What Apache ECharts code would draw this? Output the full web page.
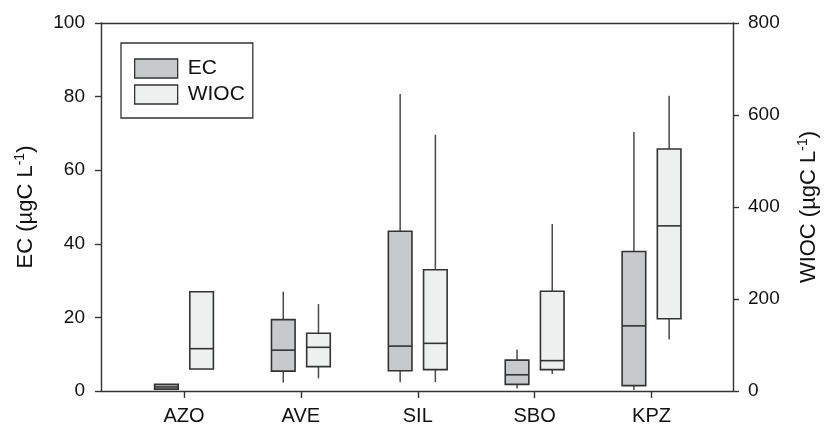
<!DOCTYPE html>
<html>
<head>
<meta charset="utf-8">
<script src="https://cdn.jsdelivr.net/npm/echarts@6/dist/echarts.min.js"></script>
<style>
html,body{margin:0;padding:0;background:#fff;}
#chart{width:824px;height:428px;}
</style>
</head>
<body>
<div id="chart"></div>
<script>
// ---- data ----
const categories = ['AZO', 'AVE', 'SIL', 'SBO', 'KPZ'];
// EC (left axis, µgC/L)
const ecMin = [0.5, 2.3, 2.4, 0.7, 0.3];
const ecQ1  = [0.5, 5.4, 5.5, 1.8, 1.45];
const ecMed = [1.1, 11.1, 12.2, 4.4, 17.7];
const ecQ3  = [1.8, 19.4, 43.4, 8.4, 37.9];
const ecMax = [1.8, 27.0, 80.7, 11.3, 70.4];
// WIOC (right axis, µgC/L)
const wiocMin = [47.8, 27.5, 19.6, 37, 112];
const wiocQ1  = [47.8, 52.9, 46.4, 46.4, 157];
const wiocMed = [92, 95, 103.6, 66, 359];
const wiocQ3  = [215.9, 125.4, 263.7, 216.7, 526];
const wiocMax = [215.9, 189, 557, 363, 642];
const leftTicks = [0, 20, 40, 60, 80, 100];
const rightTicks = [0, 200, 400, 600, 800];

const FONT = '"Liberation Sans", Arial, Helvetica, sans-serif';
const LINE = '#333333';

function rows(mn, q1, md, q3, mx) {
  return categories.map((c, i) => [i, mn[i], q1[i], md[i], q3[i], mx[i]]);
}

function makeRender(offsetPx, fill) {
  return function (params, api) {
    const x = api.value(0);
    const pMin = api.coord([x, api.value(1)]);
    const pQ1 = api.coord([x, api.value(2)]);
    const pMed = api.coord([x, api.value(3)]);
    const pQ3 = api.coord([x, api.value(4)]);
    const pMax = api.coord([x, api.value(5)]);
    const cx = pMed[0] + offsetPx;
    const hw = 11.8;
    const children = [];
    if (pMax[1] < pQ3[1] - 0.5) {
      children.push({type: 'line', shape: {x1: cx, y1: pMax[1], x2: cx, y2: pQ3[1]},
        style: {stroke: '#4a4a4a', lineWidth: 1.5}});
    }
    if (pMin[1] > pQ1[1] + 0.5) {
      children.push({type: 'line', shape: {x1: cx, y1: pQ1[1], x2: cx, y2: pMin[1]},
        style: {stroke: '#4a4a4a', lineWidth: 1.5}});
    }
    children.push({type: 'rect', shape: {x: cx - hw, y: pQ3[1], width: hw * 2, height: pQ1[1] - pQ3[1]},
      style: {fill: fill, stroke: LINE, lineWidth: 1.6}});
    children.push({type: 'line', shape: {x1: cx - hw, y1: pMed[1], x2: cx + hw, y2: pMed[1]},
      style: {stroke: LINE, lineWidth: 1.6}});
    return {type: 'group', children: children};
  };
}

const chart = echarts.init(document.getElementById('chart'), null, {renderer: 'canvas'});
const EC_FILL = '#c8c9cb';
const WIOC_FILL = '#eef0ef';

const option = {
  animation: false,
  backgroundColor: '#fff',
  textStyle: {fontFamily: FONT},
  grid: {left: 101, right: 91, top: 23, bottom: 37, outerBoundsMode: 'none'},
  legend: {
    orient: 'vertical',
    left: 121, top: 43,
    padding: [15, 8, 13, 13],
    itemWidth: 43, itemHeight: 19, itemGap: 5,
    borderColor: LINE, borderWidth: 1.3,
    icon: 'rect',
    selectedMode: false,
    textStyle: {fontSize: 21, color: '#111', fontFamily: FONT, lineHeight: 19, padding: [0, 0, 0, 5]},
    data: [
      {name: 'EC', icon: 'rect', itemStyle: {color: EC_FILL, borderColor: LINE, borderWidth: 1.3}},
      {name: 'WIOC', icon: 'rect', itemStyle: {color: WIOC_FILL, borderColor: LINE, borderWidth: 1.3}}
    ]
  },
  xAxis: [
    {
      type: 'value', position: 'bottom',
      min: -0.71, max: 4.697,
      axisLine: {show: true, onZero: false, lineStyle: {color: LINE, width: 1.4}},
      axisTick: {show: true, inside: false, length: 7, customValues: [0, 1, 2, 3, 4], lineStyle: {color: LINE, width: 1.4}},
      axisLabel: {show: true, customValues: [0, 1, 2, 3, 4], margin: 15, fontSize: 20, color: '#111', fontFamily: FONT,
        formatter: v => categories[Math.round(v)]},
      splitLine: {show: false}
    },
    {
      type: 'value', position: 'top',
      min: -0.71, max: 4.697,
      axisLine: {show: true, onZero: false, lineStyle: {color: LINE, width: 1.4}},
      axisTick: {show: false}, axisLabel: {show: false}, splitLine: {show: false}
    }
  ],
  yAxis: [
    {
      type: 'value', position: 'left', min: 0, max: 100, interval: 20,
      name: '{a|EC (µgC L}{s|-1}{a|)}',
      nameLocation: 'middle', nameGap: 63, nameRotate: 90,
      nameTextStyle: {
        rich: {
          a: {fontSize: 22, color: '#111', fontFamily: FONT, lineHeight: 25},
          s: {fontSize: 14, color: '#111', fontFamily: FONT, verticalAlign: 'top', lineHeight: 14}
        }
      },
      axisLine: {show: true, onZero: false, lineStyle: {color: LINE, width: 1.4}},
      axisTick: {show: true, inside: false, length: 6, lineStyle: {color: LINE, width: 1.4}},
      axisLabel: {margin: 16, fontSize: 19, color: '#111', fontFamily: FONT,
        formatter: v => leftTicks.includes(v) ? String(v) : ''},
      splitLine: {show: false}
    },
    {
      type: 'value', position: 'right', min: 0, max: 800, interval: 200,
      name: '{a|WIOC (µgC L}{s|-1}{a|)}',
      nameLocation: 'middle', nameGap: 63, nameRotate: 90,
      nameTextStyle: {
        rich: {
          a: {fontSize: 22, color: '#111', fontFamily: FONT, lineHeight: 25},
          s: {fontSize: 14, color: '#111', fontFamily: FONT, verticalAlign: 'top', lineHeight: 14}
        }
      },
      axisLine: {show: true, onZero: false, lineStyle: {color: LINE, width: 1.4}},
      axisTick: {show: true, inside: false, length: 6, lineStyle: {color: LINE, width: 1.4}},
      axisLabel: {margin: 15, fontSize: 19, color: '#111', fontFamily: FONT,
        formatter: v => rightTicks.includes(v) ? String(v) : ''},
      splitLine: {show: false}
    }
  ],
  series: [
    {
      name: 'EC', type: 'custom', xAxisIndex: 0, yAxisIndex: 0,
      itemStyle: {color: EC_FILL, borderColor: LINE},
      encode: {x: 0, y: [1, 2, 3, 4, 5]},
      renderItem: makeRender(-17.6, EC_FILL),
      data: rows(ecMin, ecQ1, ecMed, ecQ3, ecMax),
      clip: false
    },
    {
      name: 'WIOC', type: 'custom', xAxisIndex: 0, yAxisIndex: 1,
      itemStyle: {color: WIOC_FILL, borderColor: LINE},
      encode: {x: 0, y: [1, 2, 3, 4, 5]},
      renderItem: makeRender(17.6, WIOC_FILL),
      data: rows(wiocMin, wiocQ1, wiocMed, wiocQ3, wiocMax),
      clip: false
    }
  ]
};
chart.setOption(option);
</script>
</body>
</html>
